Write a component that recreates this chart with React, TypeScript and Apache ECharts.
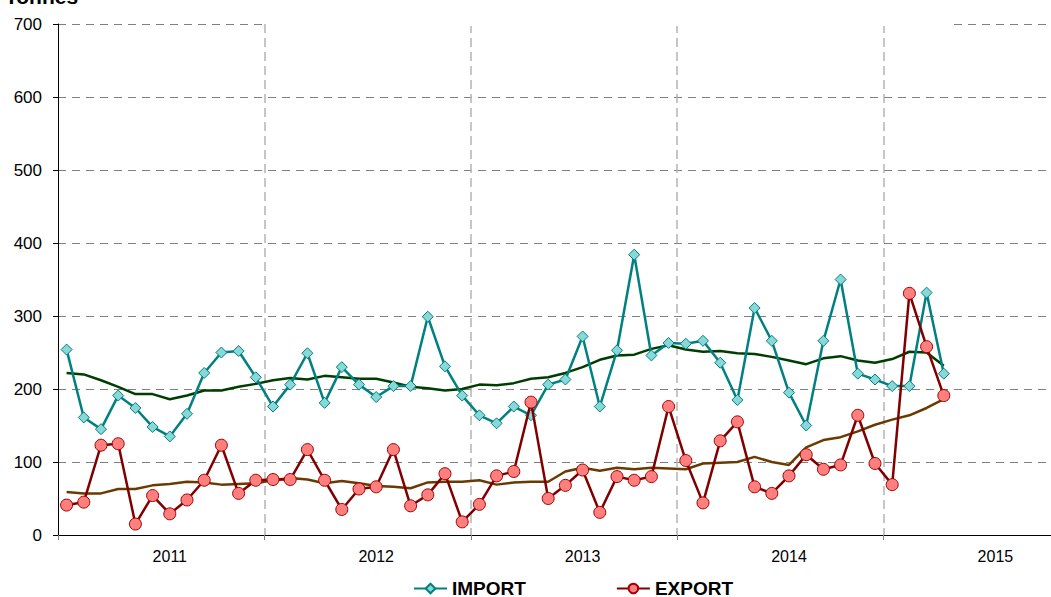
import React, { useEffect, useRef } from "react";
import * as echarts from "echarts";

const years = ["2011", "2012", "2013", "2014", "2015"];
const months = ["01", "02", "03", "04", "05", "06", "07", "08", "09", "10", "11", "12"];
const yTicks = [0, 100, 200, 300, 400, 500, 600, 700];

const importVals = [
  254, 161, 145, 191, 174, 148, 135, 166, 222, 250, 252, 216,
  176, 206, 249, 181, 230, 206, 189, 204, 204, 299, 231, 191,
  164, 153, 176, 164, 206, 213, 272, 176, 253, 384, 246, 263,
  262, 266, 236, 185, 311, 266, 195, 150, 266, 350, 221, 213,
  204, 204, 332, 221,
];
const exportVals = [
  41, 45, 123, 125, 15, 54, 29, 48, 75, 123, 57, 75,
  76, 76, 117, 75, 35, 63, 66, 117, 40, 55, 84, 18,
  42, 81, 87, 182, 50, 68, 89, 31, 80, 75, 80, 176,
  102, 44, 129, 155, 66, 57, 81, 110, 90, 96, 164, 98,
  69, 331, 258, 191,
];
const importTrend = [
  222, 220, 212, 203, 193, 193, 186, 191, 198, 198, 203, 207,
  212, 215, 213, 218, 216, 214, 214, 209, 203, 201, 198, 200,
  206, 205, 208, 214, 216, 222, 230, 240, 246, 247, 255, 260,
  254, 251, 252, 249, 248, 244, 239, 234, 242, 245, 239, 236,
  241, 251, 250, 232,
];
const exportTrend = [
  59, 57, 57, 63, 63, 68, 70, 73, 72, 69, 70, 71,
  75, 78, 76, 71, 74, 71, 67, 66, 64, 72, 73, 73,
  75, 69, 72, 73, 73, 87, 92, 88, 92, 90, 92, 91,
  90, 98, 99, 100, 107, 100, 96, 120, 130, 134, 142, 151,
  158, 164, 174, 186,
];

const categories = years.flatMap((y) => months.map((m) => `${y}-${m}`));

const FONT = "'Liberation Sans', Arial, sans-serif";

export default function App() {
  const ref = useRef<HTMLDivElement>(null);
  useEffect(() => {
    if (!ref.current) return;
    const chart = echarts.init(ref.current, undefined, { renderer: "svg" });
    chart.setOption({
      animation: false,
      backgroundColor: "#ffffff",
      textStyle: { fontFamily: FONT },
      grid: { left: 58, top: 24, width: 1032, height: 511, containLabel: false },
      graphic: [
        {
          type: "rect",
          z: 100,
          shape: { x: 266, y: 22, width: 686, height: 4 },
          style: { fill: "#ffffff" },
        },
        {
          type: "text",
          z: 100,
          x: 5,
          y: 7,
          style: {
            text: "Tonnes",
            font: `bold 21px ${FONT}`,
            fill: "#000000",
            verticalAlign: "bottom",
            align: "left",
          },
        },
      ],
      legend: {
        data: ["IMPORT", "EXPORT"],
        left: 413,
        top: 579,
        padding: 0,
        itemWidth: 33,
        itemHeight: 12,
        itemGap: 90,
        textStyle: {
          fontFamily: FONT,
          fontSize: 19,
          lineHeight: 16,
          fontWeight: "bold",
          color: "#000000",
        },
      },
      xAxis: {
        type: "category",
        data: categories,
        boundaryGap: true,
        axisLine: { lineStyle: { color: "#000000", width: 1 } },
        axisTick: {
          show: true,
          length: 5,
          interval: (i: number) => i % 12 === 0,
          lineStyle: { color: "#808080" },
        },
        axisLabel: {
          interval: (i: number) => i % 12 === 6,
          formatter: (v: string) => v.slice(0, 4),
          fontSize: 16,
          color: "#000000",
          margin: 13,
          fontFamily: FONT,
        },
        splitLine: {
          show: true,
          interval: (i: number) => i % 12 === 0 && i > 0,
          lineStyle: { color: "#b4b4b4", type: [9, 5], width: 1.5 },
        },
      },
      yAxis: {
        type: "value",
        min: yTicks[0],
        max: yTicks[yTicks.length - 1],
        interval: 100,
        axisLine: { show: true, lineStyle: { color: "#000000", width: 1 } },
        axisTick: { show: true, length: 5, lineStyle: { color: "#000000" } },
        axisLabel: { fontSize: 17, color: "#000000", margin: 16, fontFamily: FONT },
        splitLine: { show: true, lineStyle: { color: "#808080", type: [8, 6], width: 1 } },
      },
      series: [
        {
          name: "IMPORT trend",
          type: "line",
          data: importTrend,
          showSymbol: false,
          lineStyle: { color: "#003d00", width: 2.5 },
          itemStyle: { color: "#003d00" },
          z: 2,
        },
        {
          name: "EXPORT trend",
          type: "line",
          data: exportTrend,
          showSymbol: false,
          lineStyle: { color: "#6b3a00", width: 2.5 },
          itemStyle: { color: "#6b3a00" },
          z: 2,
        },
        {
          name: "IMPORT",
          type: "line",
          data: importVals,
          symbol: "diamond",
          symbolSize: 11,
          showAllSymbol: true,
          lineStyle: { color: "#008080", width: 2.5 },
          itemStyle: { color: "#88d8d8", borderColor: "#008080", borderWidth: 1 },
          z: 3,
        },
        {
          name: "EXPORT",
          type: "line",
          data: exportVals,
          symbol: "circle",
          symbolSize: 12,
          showAllSymbol: true,
          lineStyle: { color: "#800000", width: 2.5 },
          itemStyle: { color: "#ff7f7f", borderColor: "#a00000", borderWidth: 1 },
          z: 4,
        },
      ],
    });
    return () => chart.dispose();
  }, []);
  return (
    <div
      style={{
        position: "fixed",
        left: 0,
        top: 0,
        width: 1051,
        height: 597,
        overflow: "hidden",
        background: "#fff",
      }}
    >
      <div ref={ref} style={{ width: 1100, height: 597 }} />
    </div>
  );
}
